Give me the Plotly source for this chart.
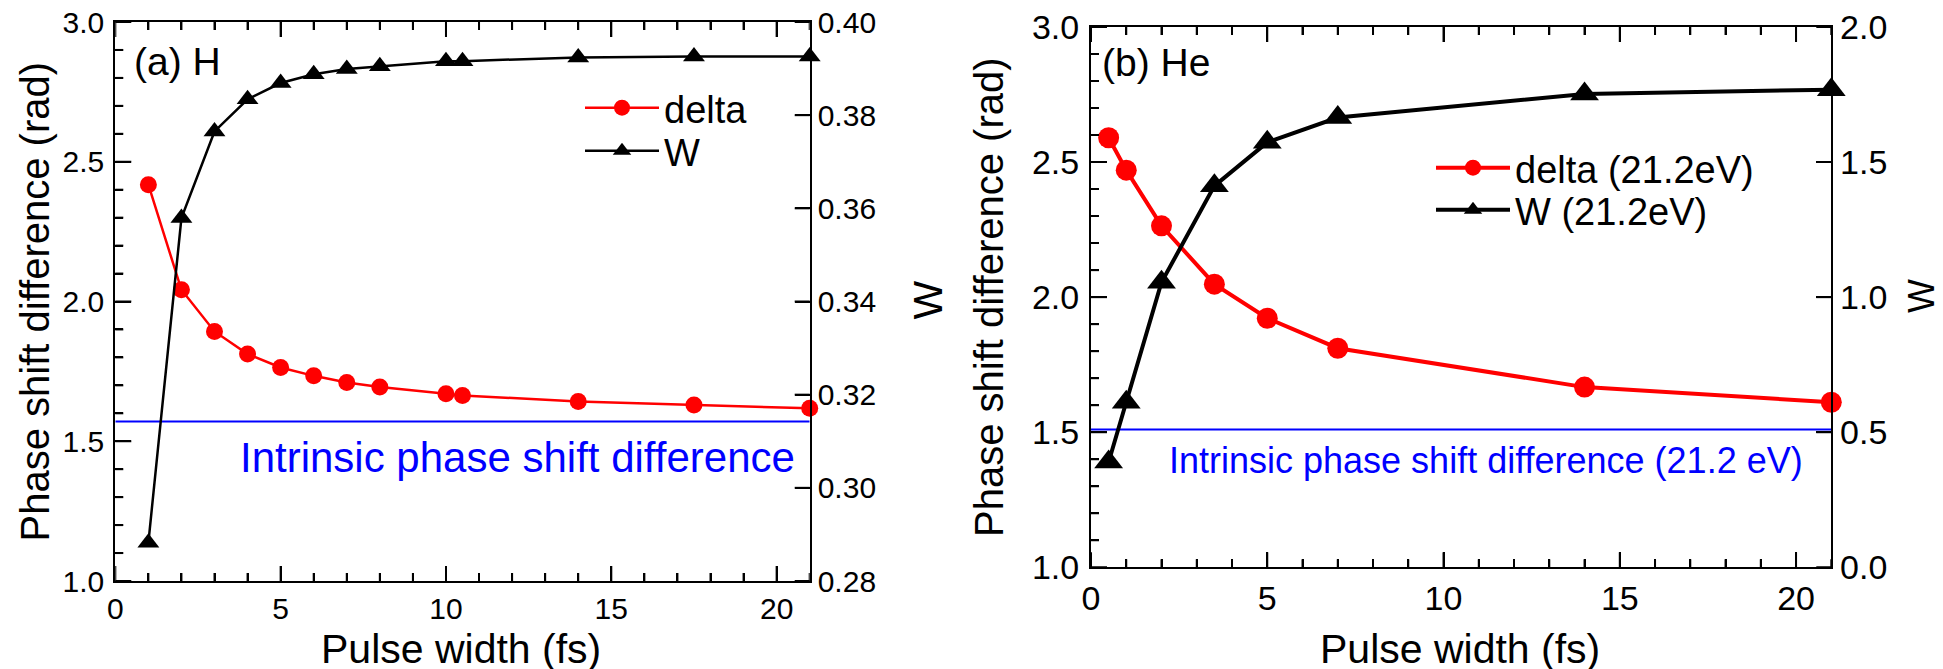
import plotly.graph_objects as go

# ---------------- data ----------------
pulse_a = [1, 2, 3, 4, 5, 6, 7, 8, 10, 10.5, 14, 17.5, 21]
delta_a = [2.418, 2.042, 1.893, 1.812, 1.764, 1.734, 1.710, 1.694, 1.670, 1.664, 1.642, 1.630, 1.618]
w_a = [0.2882, 0.3579, 0.3765, 0.3834, 0.3869, 0.3888, 0.3899, 0.3905, 0.3916, 0.3916, 0.3924, 0.3926, 0.3926]
intrinsic_a = 1.5708

pulse_b = [0.5, 1, 2, 3.5, 5, 7, 14, 21]
delta_b = [2.590, 2.470, 2.264, 2.048, 1.922, 1.811, 1.667, 1.611]
w_b = [0.390, 0.611, 1.055, 1.412, 1.573, 1.665, 1.752, 1.768]
intrinsic_b = 1.510

# tick positions (axis decorations)
x_major_ticks = [0, 5, 10, 15, 20]
x_minor_ticks = [1, 2, 3, 4, 6, 7, 8, 9, 11, 12, 13, 14, 16, 17, 18, 19, 21]
phase_major_ticks = [1.0, 1.5, 2.0, 2.5, 3.0]
phase_minor_ticks = [1.1, 1.2, 1.3, 1.4, 1.6, 1.7, 1.8, 1.9, 2.1, 2.2, 2.3, 2.4, 2.6, 2.7, 2.8, 2.9]
w_a_ticks = [0.28, 0.30, 0.32, 0.34, 0.36, 0.38, 0.40]
w_b_ticks = [0.0, 0.5, 1.0, 1.5, 2.0]

x_range = [0, 21]
line_span = [0, 21]

FIG_W, FIG_H = 1943, 669
FONT = "Liberation Sans, Arial, Helvetica, sans-serif"


def px(xp):
    return xp / FIG_W


def py(yp):
    return 1 - yp / FIG_H


fig = go.Figure()

# ---- panel (a) ----
fig.add_trace(go.Scatter(x=line_span, y=[intrinsic_a, intrinsic_a], mode="lines",
                         line=dict(color="#0000ff", width=2), showlegend=False,
                         xaxis="x", yaxis="y", hoverinfo="skip"))
fig.add_trace(go.Scatter(x=pulse_a, y=delta_a, mode="lines+markers", name="delta",
                         line=dict(color="#ff0000", width=2.5),
                         marker=dict(symbol="circle", size=17, color="#ff0000"),
                         xaxis="x", yaxis="y", legend="legend", cliponaxis=False))
fig.add_trace(go.Scatter(x=pulse_a, y=w_a, mode="lines+markers", name="W",
                         line=dict(color="#000000", width=2.5),
                         marker=dict(symbol="triangle-up", size=19, color="#000000"),
                         xaxis="x", yaxis="y2", legend="legend2", cliponaxis=False))

# ---- panel (b) ----
fig.add_trace(go.Scatter(x=line_span, y=[intrinsic_b, intrinsic_b], mode="lines",
                         line=dict(color="#0000ff", width=2), showlegend=False,
                         xaxis="x2", yaxis="y3", hoverinfo="skip"))
fig.add_trace(go.Scatter(x=pulse_b, y=delta_b, mode="lines+markers", name="delta (21.2eV)",
                         line=dict(color="#ff0000", width=4),
                         marker=dict(symbol="circle", size=21, color="#ff0000"),
                         xaxis="x2", yaxis="y3", legend="legend3", cliponaxis=False))
fig.add_trace(go.Scatter(x=pulse_b, y=w_b, mode="lines+markers", name="W (21.2eV)",
                         line=dict(color="#000000", width=4),
                         marker=dict(symbol="triangle-up", size=25, color="#000000"),
                         xaxis="x2", yaxis="y4", legend="legend4", cliponaxis=False))


def ax(**kw):
    base = dict(showline=True, linecolor="black", linewidth=2, ticks="inside",
                tickwidth=2, tickcolor="black", showgrid=False, zeroline=False,
                ticklabeloverflow="allow", automargin=False)
    base.update(kw)
    return base


def minor(dt):
    return dict(dtick=dt, ticks="inside", ticklen=8, tickwidth=2, tickcolor="black",
                showgrid=False)


A_L, A_R, A_T, A_B = 107.3, 801.7, 14, 573
B_L, B_R, B_T, B_B = 1083, 1823.3, 19, 559.3
dom_a_x = [px(A_L), px(A_R)]
dom_a_y = [py(A_B), py(A_T)]
dom_b_x = [px(B_L), px(B_R)]
dom_b_y = [py(B_B), py(B_T)]


def leg(x_text, y_mid, size):
    return dict(x=px(x_text - 92), y=py(y_mid), xanchor="left", yanchor="middle",
                bgcolor="rgba(0,0,0,0)", font=dict(size=size, family=FONT, color="black"),
                itemsizing="trace", itemwidth=74, borderwidth=0)


# explicit tick marks drawn as shapes along the axes (in axis / domain coordinates)
shapes = []
TICK = dict(color="black", width=2)


def add_x_ticks(xref, ydom_ref, plot_h):
    for vals, ln in ((x_major_ticks, 15), (x_minor_ticks, 8)):
        for v in vals:
            for base, sgn in ((0, 1), (1, -1)):
                shapes.append(dict(type="line", xref=xref, yref=ydom_ref, x0=v, x1=v,
                                   y0=base, y1=base + sgn * ln / plot_h, line=TICK, layer="above"))


def add_y_ticks(xdom_ref, yref, plot_w, vals, ln, side):
    for v in vals:
        if side == "left":
            x0, x1 = 0, ln / plot_w
        else:
            x0, x1 = 1, 1 - ln / plot_w
        shapes.append(dict(type="line", xref=xdom_ref, yref=yref, x0=x0, x1=x1,
                           y0=v, y1=v, line=TICK, layer="above"))


add_x_ticks("x", "y domain", A_B - A_T)
add_y_ticks("x domain", "y", A_R - A_L, phase_major_ticks, 16, "left")
add_y_ticks("x domain", "y", A_R - A_L, phase_minor_ticks, 8, "left")
add_y_ticks("x domain", "y2", A_R - A_L, w_a_ticks, 15, "right")
add_x_ticks("x2", "y3 domain", B_B - B_T)
add_y_ticks("x2 domain", "y3", B_R - B_L, phase_major_ticks, 16, "left")
add_y_ticks("x2 domain", "y3", B_R - B_L, phase_minor_ticks, 8, "left")
add_y_ticks("x2 domain", "y4", B_R - B_L, w_b_ticks, 15, "right")

fig.update_layout(
    template="none",
    width=FIG_W, height=FIG_H,
    margin=dict(l=0, r=0, t=0, b=0),
    paper_bgcolor="white", plot_bgcolor="white",
    font=dict(family=FONT, color="black"),
    xaxis=ax(domain=dom_a_x, range=x_range, anchor="y", tickmode="linear", dtick=5, tick0=0,
             ticklen=15, mirror="ticks", minor=minor(1), tickfont=dict(size=30)),
    yaxis=ax(domain=dom_a_y, range=[1.0, 3.0], anchor="x", tickmode="linear", dtick=0.5, tick0=1.0,
             tickformat=".1f", ticklen=16, minor=minor(0.1), tickfont=dict(size=30),
             ticklabelstandoff=3),
    yaxis2=ax(range=[0.28, 0.40], overlaying="y", side="right", anchor="x", tickmode="linear",
              dtick=0.02, tick0=0.28, tickformat=".2f", ticklen=15,
              tickfont=dict(size=30)),
    xaxis2=ax(domain=dom_b_x, range=x_range, anchor="y3", tickmode="linear", dtick=5, tick0=0,
              ticklen=15, mirror="ticks", minor=minor(1), tickfont=dict(size=34)),
    yaxis3=ax(domain=dom_b_y, range=[1.0, 3.0], anchor="x2", tickmode="linear", dtick=0.5, tick0=1.0,
              tickformat=".1f", ticklen=16, minor=minor(0.1), tickfont=dict(size=34),
              ticklabelstandoff=3),
    yaxis4=ax(range=[0.0, 2.0], overlaying="y3", side="right", anchor="x2", tickmode="linear",
              dtick=0.5, tick0=0, tickformat=".1f", ticklen=15, tickfont=dict(size=34)),
    legend=leg(664, 100, 38),
    legend2=leg(664, 143, 38),
    legend3=leg(1515, 160, 38),
    legend4=leg(1515, 202, 38),
    showlegend=True,
    shapes=shapes,
)

ann = []
# axis titles
ann.append(dict(text="Pulse width (fs)", x=px(453.3), y=py(641), xref="paper", yref="paper",
                xanchor="center", yanchor="middle", showarrow=False, font=dict(size=41)))
ann.append(dict(text="Pulse width (fs)", x=px(1451.5), y=py(641), xref="paper", yref="paper",
                xanchor="center", yanchor="middle", showarrow=False, font=dict(size=41)))
ann.append(dict(text="Phase shift difference (rad)", x=px(26), y=py(293.5), xref="paper", yref="paper",
                xanchor="center", yanchor="middle", showarrow=False, textangle=-90, font=dict(size=40)))
ann.append(dict(text="Phase shift difference (rad)", x=px(981), y=py(289), xref="paper", yref="paper",
                xanchor="center", yanchor="middle", showarrow=False, textangle=-90, font=dict(size=40)))
ann.append(dict(text="W", x=px(919), y=py(292.5), xref="paper", yref="paper",
                xanchor="center", yanchor="middle", showarrow=False, textangle=-90, font=dict(size=41)))
ann.append(dict(text="W", x=px(1913), y=py(288), xref="paper", yref="paper",
                xanchor="center", yanchor="middle", showarrow=False, textangle=-90, font=dict(size=36)))
# panel labels
ann.append(dict(text="(a) H", x=px(124), y=py(53), xref="paper", yref="paper",
                xanchor="left", yanchor="middle", showarrow=False, font=dict(size=39)))
ann.append(dict(text="(b) He", x=px(1092), y=py(54), xref="paper", yref="paper",
                xanchor="left", yanchor="middle", showarrow=False, font=dict(size=39)))
# intrinsic labels
ann.append(dict(text="Intrinsic phase shift difference", x=px(509), y=py(449), xref="paper", yref="paper",
                xanchor="center", yanchor="middle", showarrow=False, font=dict(size=42, color="#0000ff")))
ann.append(dict(text="Intrinsic phase shift difference (21.2 eV)", x=px(1478), y=py(453), xref="paper", yref="paper",
                xanchor="center", yanchor="middle", showarrow=False, font=dict(size=36, color="#0000ff")))

fig.update_layout(annotations=ann)

fig.write_html("out.html")
